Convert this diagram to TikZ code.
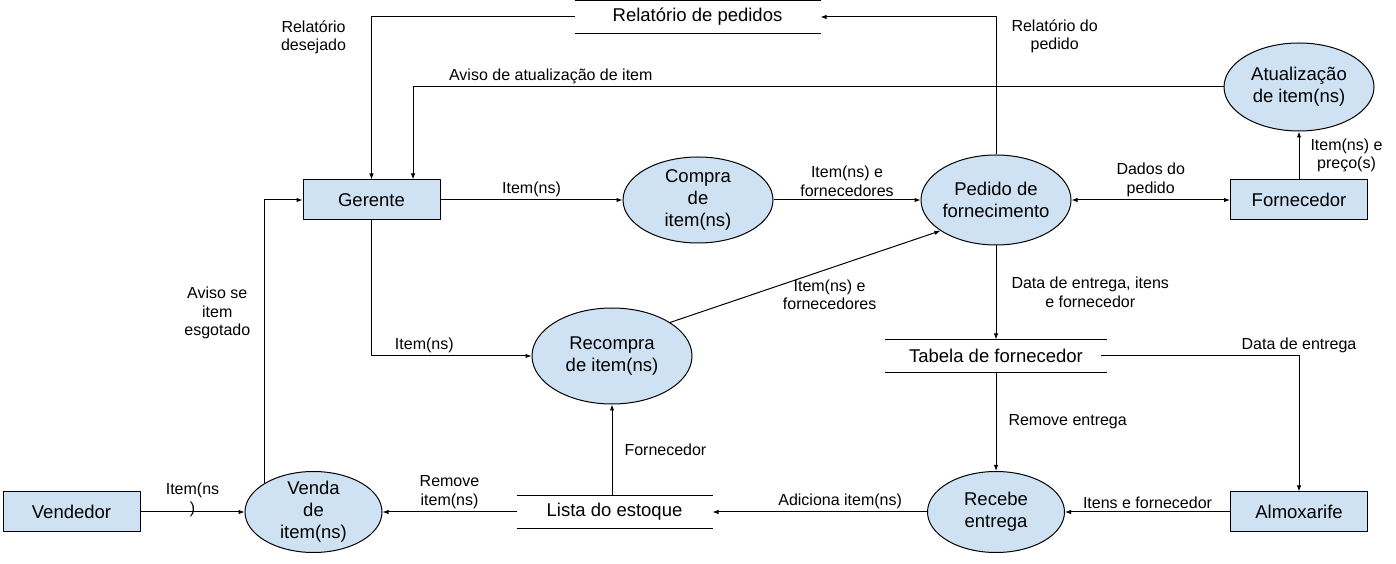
\documentclass[tikz,border=0pt]{standalone}
\usepackage{fontspec}
\setmainfont{Liberation Sans}
\usetikzlibrary{shapes.geometric,arrows.meta}
\definecolor{procfill}{HTML}{CFE2F3}
\begin{document}
\begin{tikzpicture}[>={Latex[length=6bp,width=4.5bp]},line join=bevel,line width=1bp,
  ent/.style={draw,fill=procfill,minimum width=137bp,minimum height=40bp,inner sep=0pt,
    font=\fontsize{18.5bp}{22bp}\selectfont},
  proc/.style={ellipse,draw,fill=procfill,inner sep=-8bp,align=center,
    font=\fontsize{18.5bp}{22bp}\selectfont},
  store/.style={minimum height=32bp,inner sep=0pt,font=\fontsize{18.5bp}{22bp}\selectfont},
  lbl/.style={inner sep=3bp,align=center,font=\fontsize{16bp}{18.5bp}\selectfont}]
  \useasboundingbox (0bp,0bp) rectangle (1396bp,564bp);
%%
  % Node: ger
  \node[ent] (ger) at (371.5bp,364bp) {Gerente};
  % Node: vend
  \node[ent] (vend) at (71.5bp,52bp) {Vendedor};
  % Node: forn
  \node[ent] (forn) at (1299bp,364bp) {Fornecedor};
  % Node: alm
  \node[ent] (alm) at (1299bp,52bp) {Almoxarife};
  % Node: cmp
  \node[proc,minimum width=150bp,minimum height=86bp] (cmp) at (698bp,364bp) {Compra\\de\\item(ns)};
  % Node: ped
  \node[proc,minimum width=150bp,minimum height=90bp] (ped) at (996bp,364bp) {Pedido de\\fornecimento};
  % Node: atu
  \node[proc,minimum width=150bp,minimum height=88bp] (atu) at (1299bp,477bp) {Atualização\\de item(ns)};
  % Node: rcp
  \node[proc,minimum width=160bp,minimum height=96bp] (rcp) at (612bp,208bp) {Recompra\\de item(ns)};
  % Node: vda
  \node[proc,minimum width=137bp,minimum height=81bp] (vda) at (313.5bp,52bp) {Venda\\de\\item(ns)};
  % Node: rcb
  \node[proc,minimum width=137bp,minimum height=81bp] (rcb) at (996bp,52bp) {Recebe\\entrega};
  % Stores: rel, tab, lst
  \node[store,minimum width=245bp] (rel) at (697.5bp,547bp) {Relatório de pedidos};
  \node[store,minimum width=221bp] (tab) at (996bp,208bp) {Tabela de fornecedor};
  \node[store,minimum width=195bp] (lst) at (614.5bp,52bp) {Lista do estoque};
  \foreach \s in {rel,tab,lst}
    \draw (\s.north west) -- (\s.north east) (\s.south west) -- (\s.south east);
%%
  % Edge: rel -> ger
  \draw[->] (rel.west) -| node[lbl,pos=0.563,left=22bp] {Relatório\\desejado} (ger.north);
  % Edge: ped -> rel
  \draw[->] (ped.north) |- node[lbl,pos=0.43,right=12bp] {Relatório do\\pedido} (rel.east);
  % Edge: atu -> ger
  \draw[->] (atu.west) -| node[lbl,pos=0.415,above] {Aviso de atualização de item} ([xshift=41.5bp]ger.north);
  % Edge: ger -> cmp
  \draw[->] (ger.east) -- node[lbl,above] {Item(ns)} (cmp.west);
  % Edge: cmp -> ped
  \draw[->] (cmp.east) -- node[lbl,above] {Item(ns) e\\fornecedores} (ped.west);
  % Edge: ped <-> forn
  \draw[<->] (ped.east) -- node[lbl,above] {Dados do\\pedido} (forn.west);
  % Edge: forn -> atu
  \draw[->] (forn.north) -- node[lbl,right=8bp] {Item(ns) e\\preço(s)} (atu.south);
  % Edge: ped -> tab
  \draw[->] (ped.south) -- node[lbl,right=12bp] {Data de entrega, itens\\e fornecedor} (tab.north);
  % Edge: tab -> alm
  \draw[->] ([xshift=-6bp]tab.east) -| node[lbl,pos=0.5,above] {Data de entrega} (alm.north);
  % Edge: tab -> rcb
  \draw[->] (tab.south) -- node[lbl,right=9bp] {Remove entrega} (rcb.north);
  % Edge: alm -> rcb
  \draw[->] (alm.west) -- node[lbl,above] {Itens e fornecedor} (rcb.east);
  % Edge: rcb -> lst
  \draw[->] (rcb.west) -- node[lbl,pos=0.405,above] {Adiciona item(ns)} (lst.east);
  % Edge: lst -> vda
  \draw[->] (lst.west) -- node[lbl,above] {Remove\\item(ns)} (vda.east);
  % Edge: lst -> rcp
  \draw[->] (rcp.south |- lst.north) -- node[lbl,right=9bp] {Fornecedor} (rcp.south);
  % Edge: rcp -> ped
  \draw[->] (rcp.30) -- node[lbl,pos=0.59,below=8bp] {Item(ns) e\\fornecedores} (ped.209);
  % Edge: ger -> rcp
  \draw[->] (ger.south) |- node[lbl,pos=0.665,above] {Item(ns)} (rcp.west);
  % Edge: vda -> ger
  \draw[->] (vda.north west) |- node[lbl,pos=0.3,left=11bp] {Aviso se\\item\\esgotado} (ger.west);
  % Edge: vend -> vda
  \draw[->] (vend.east) -- node[lbl,yshift=12bp] {Item(ns\\)} (vda.west);
%
\end{tikzpicture}
\end{document}
